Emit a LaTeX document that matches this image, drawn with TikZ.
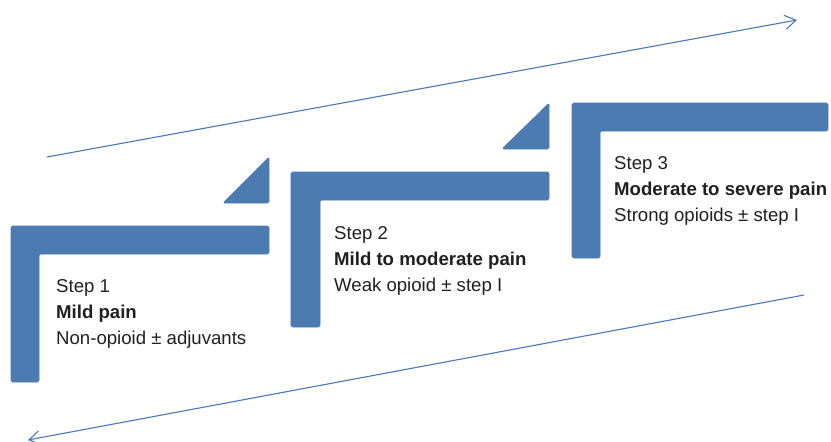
\documentclass[tikz,border=0pt]{standalone}
\usepackage{fontspec}
\setmainfont{Liberation Sans}
\usetikzlibrary{arrows.meta}
\definecolor{stepblue}{HTML}{4C7BB2}
\definecolor{arrowblue}{HTML}{4A78B6}
\definecolor{txt}{HTML}{231F20}
\tikzset{
  lshape/.style={fill=stepblue, draw=stepblue, line width=0.6pt, rounded corners=1.5pt},
  wedge/.style={fill=stepblue, draw=stepblue, line width=0.6pt, rounded corners=1.5pt},
  steptext/.style={anchor=base west, inner sep=0pt, text=txt, font=\fontsize{18.6}{26}\selectfont},
  flow/.style={draw=arrowblue, line width=1.1pt, -{Straight Barb[length=11pt, width=14pt, line width=1.1pt]}}
}
\begin{document}
\begin{tikzpicture}[x=1pt,y=-1pt]
\useasboundingbox (0,0) rectangle (831,442);
% Step 1
\path[lshape] (11,226) -- (269,226) -- (269,254) -- (39,254) -- (39,382) -- (11,382) -- cycle;
\path[wedge] (223,203) -- (269,157) -- (269,203) -- cycle;
% Step 2
\path[lshape] (291,172) -- (549,172) -- (549,200) -- (320,200) -- (320,327) -- (291,327) -- cycle;
\path[wedge] (502,149) -- (549,103) -- (549,149) -- cycle;
% Step 3
\path[lshape] (572,103) -- (828,103) -- (828,131) -- (600,131) -- (600,258) -- (572,258) -- cycle;
% texts
\node[steptext] (s1a) at (56,292) {Step 1};
\node[steptext] (s1b) at (56,318) {\bfseries Mild pain};
\node[steptext] (s1c) at (56,344) {Non-opioid ± adjuvants};
\node[steptext] (s2a) at (334,239) {Step 2};
\node[steptext] (s2b) at (334,265) {\bfseries Mild to moderate pain};
\node[steptext] (s2c) at (334,291) {Weak opioid ± step I};
\node[steptext] (s3a) at (614,169) {Step 3};
\node[steptext] (s3b) at (614,195) {\bfseries Moderate to severe pain};
\node[steptext] (s3c) at (614,221) {Strong opioids ± step I};
% arrows
\coordinate (up1) at (47,157);
\coordinate (up2) at (797,20);
\coordinate (dn1) at (804,295);
\coordinate (dn2) at (28,440);
\draw[flow] (up1) -- (up2);
\draw[flow] (dn1) -- (dn2);
\end{tikzpicture}
\end{document}
